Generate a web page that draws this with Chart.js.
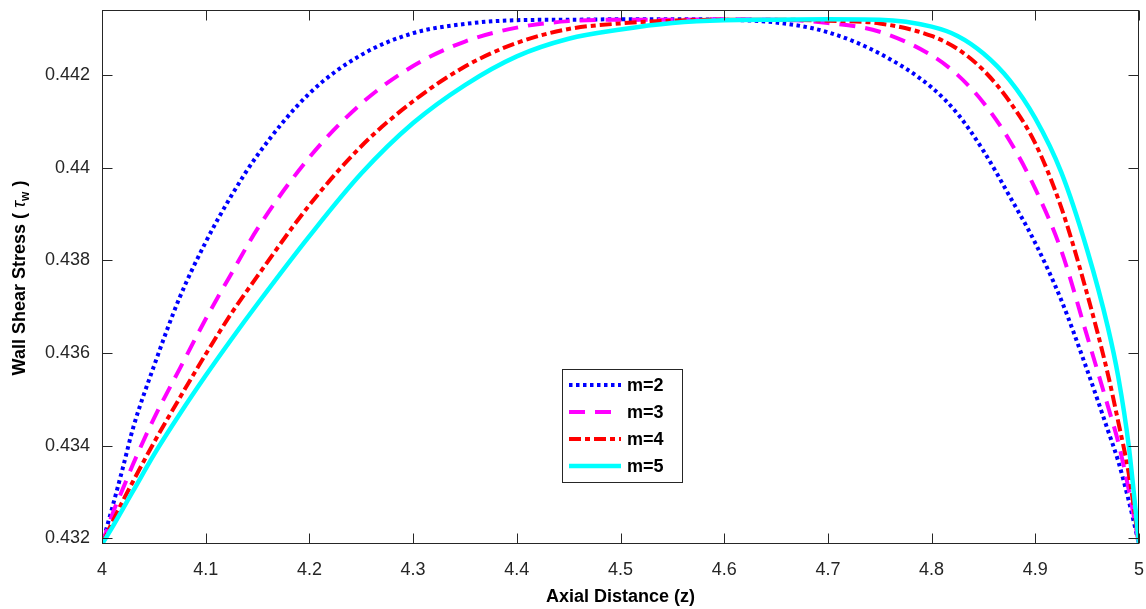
<!DOCTYPE html>
<html>
<head>
<meta charset="utf-8">
<script src="https://cdn.jsdelivr.net/npm/chart.js@4.4.1/dist/chart.umd.min.js"></script>
<style>
  html, body { margin: 0; padding: 0; background: #fff; }
  #wrap { width: 1146px; height: 609px; }
</style>
</head>
<body>
<div id="wrap"><canvas id="chart"></canvas></div>
<script>
// axial distance samples (z)
const axialZ = [4, 4.01, 4.02, 4.03, 4.05, 4.075, 4.1, 4.125, 4.15, 4.2, 4.25, 4.3, 4.35, 4.4, 4.45, 4.5,
  4.55, 4.6, 4.65, 4.7, 4.75, 4.8, 4.825, 4.85, 4.875, 4.9, 4.925, 4.95, 4.97, 4.98, 4.99, 5];

// wall shear stress for each m
const tauM2 = [0.43187, 0.43267, 0.43351, 0.43438, 0.43571, 0.43720, 0.43839, 0.43940, 0.44027, 0.44160, 0.44243,
  0.44290, 0.44310, 0.44318, 0.44319, 0.44320, 0.44320, 0.44319, 0.44313, 0.44292, 0.44246, 0.44173, 0.44116,
  0.44036, 0.43939, 0.43837, 0.43714, 0.43563, 0.43433, 0.43366, 0.43282, 0.43187];
const tauM3 = [0.43187, 0.43252, 0.43306, 0.43360, 0.43458, 0.43566, 0.43673, 0.43772, 0.43868, 0.44022, 0.44138,
  0.44219, 0.44272, 0.44302, 0.44316, 0.44319, 0.44319, 0.44320, 0.44319, 0.44312, 0.44293, 0.44242, 0.44200,
  0.44140, 0.44059, 0.43954, 0.43821, 0.43636, 0.43485, 0.43407, 0.43306, 0.43187];
const tauM4 = [0.43187, 0.43235, 0.43280, 0.43323, 0.43406, 0.43503, 0.43597, 0.43686, 0.43766, 0.43919, 0.44046,
  0.44143, 0.44218, 0.44269, 0.44299, 0.44311, 0.44317, 0.44319, 0.44319, 0.44317, 0.44311, 0.44284, 0.44256,
  0.44210, 0.44143, 0.44052, 0.43914, 0.43727, 0.43554, 0.43451, 0.43341, 0.43187];
const tauM5 = [0.43187, 0.43224, 0.43263, 0.43302, 0.43380, 0.43468, 0.43551, 0.43630, 0.43706, 0.43852, 0.43987,
  0.44096, 0.44178, 0.44240, 0.44278, 0.44298, 0.44312, 0.44318, 0.44319, 0.44320, 0.44319, 0.44304, 0.44284,
  0.44246, 0.44189, 0.44106, 0.43990, 0.43822, 0.43655, 0.43548, 0.43401, 0.43187];

const seriesLabels = ['m=2', 'm=3', 'm=4', 'm=5'];
const xTicks = [4, 4.1, 4.2, 4.3, 4.4, 4.5, 4.6, 4.7, 4.8, 4.9, 5];
const yTicks = [0.432, 0.434, 0.436, 0.438, 0.44, 0.442];
const yMin = 0.431875;
const yMax = 0.4434;

const styles = [
  { color: '#0000ff', dash: [3.5, 3.5], width: 4 },
  { color: '#ff00ff', dash: [16, 10], width: 4 },
  { color: '#ff0000', dash: [12, 4, 5, 4], width: 4 },
  { color: '#00ffff', dash: [], width: 4.5 }
];
const allTau = [tauM2, tauM3, tauM4, tauM5];

const axisColor = '#262626';
const fontFamily = '"Liberation Sans", Arial, Helvetica, sans-serif';

const datasets = allTau.map((vals, i) => ({
  label: seriesLabels[i],
  data: vals.map((v, k) => ({ x: axialZ[k], y: v })),
  borderColor: styles[i].color,
  borderDash: styles[i].dash,
  borderWidth: styles[i].width,
  borderCapStyle: 'butt',
  pointRadius: 0,
  fill: false,
  cubicInterpolationMode: 'monotone',
  order: 3 - i
}));

// box, inward ticks, legend and y title, drawn the matlab way
const matlabFrame = {
  id: 'matlabFrame',
  afterDraw(chart) {
    const { ctx, chartArea: a, scales: { x, y } } = chart;
    ctx.save();
    ctx.strokeStyle = axisColor;
    ctx.lineWidth = 1;
    ctx.setLineDash([]);
    const L = Math.round(a.left) + 0.5, R = Math.round(a.right) - 0.5;
    const T = Math.round(a.top) + 0.5, B = Math.round(a.bottom) - 0.5;
    ctx.strokeRect(L, T, R - L, B - T);
    ctx.beginPath();
    xTicks.forEach(v => {
      const px = Math.round(x.getPixelForValue(v)) + 0.5;
      ctx.moveTo(px, B); ctx.lineTo(px, B - 10);
      ctx.moveTo(px, T); ctx.lineTo(px, T + 10);
    });
    yTicks.forEach(v => {
      const py = Math.round(y.getPixelForValue(v)) + 0.5;
      ctx.moveTo(L, py); ctx.lineTo(L + 10, py);
      ctx.moveTo(R, py); ctx.lineTo(R - 10, py);
    });
    ctx.stroke();

    // legend
    const lx = 562.5, ly = 369.5, lw = 120, lh = 113;
    ctx.fillStyle = '#fff';
    ctx.fillRect(lx, ly, lw, lh);
    ctx.strokeRect(lx, ly, lw, lh);
    const rows = [385, 412, 439, 466];
    chart.data.datasets.forEach((ds, i) => {
      ctx.beginPath();
      ctx.strokeStyle = ds.borderColor;
      ctx.lineWidth = ds.borderWidth;
      ctx.setLineDash(ds.borderDash);
      ctx.moveTo(569, rows[i]);
      ctx.lineTo(621, rows[i]);
      ctx.stroke();
      ctx.setLineDash([]);
      ctx.fillStyle = '#000';
      ctx.font = 'bold 18px ' + fontFamily;
      ctx.textBaseline = 'middle';
      ctx.textAlign = 'left';
      ctx.fillText(ds.label, 627, rows[i] + 1);
    });

    // y axis title with subscript
    ctx.translate(25, 278);
    ctx.rotate(-Math.PI / 2);
    ctx.fillStyle = '#000';
    ctx.textBaseline = 'alphabetic';
    const parts = [
      { t: 'Wall Shear Stress ( ', f: 'bold 18px ' + fontFamily, dy: 0 },
      { t: 'τ', f: 'italic 19px ' + fontFamily, dy: 0 },
      { t: 'w', f: 'bold 12px ' + fontFamily, dy: 4 },
      { t: ' )', f: 'bold 18px ' + fontFamily, dy: 0 }
    ];
    let total = 0;
    parts.forEach(p => { ctx.font = p.f; total += ctx.measureText(p.t).width; });
    let cx = -total / 2;
    parts.forEach(p => {
      ctx.font = p.f;
      ctx.fillText(p.t, cx, p.dy);
      cx += ctx.measureText(p.t).width;
    });
    ctx.restore();
  }
};

new Chart(document.getElementById('chart'), {
  type: 'line',
  data: { datasets },
  options: {
    responsive: true,
    maintainAspectRatio: false,
    animation: false,
    layout: { padding: { top: 10, right: 7, left: 0, bottom: 0 } },
    plugins: { legend: { display: false }, tooltip: { enabled: false } },
    scales: {
      x: {
        type: 'linear',
        min: 4,
        max: 5,
        afterBuildTicks: s => { s.ticks = xTicks.map(v => ({ value: v })); },
        afterFit: s => { s.height = 65; s.paddingLeft = 0; s.paddingRight = 0; },
        grid: { display: false, drawTicks: false },
        border: { display: false },
        ticks: {
          color: axisColor,
          padding: 15,
          maxRotation: 0,
          font: { family: fontFamily, size: 18 },
          callback: v => String(+v.toFixed(1))
        },
        title: {
          display: true,
          text: 'Axial Distance (z)',
          color: '#000',
          font: { family: fontFamily, size: 18, weight: 'bold' },
          padding: { top: 1, bottom: 1 }
        }
      },
      y: {
        type: 'linear',
        min: yMin,
        max: yMax,
        afterBuildTicks: s => { s.ticks = yTicks.map(v => ({ value: v })); },
        afterFit: s => { s.width = 102; s.paddingTop = 0; s.paddingBottom = 0; },
        grid: { display: false, drawTicks: false },
        border: { display: false },
        ticks: {
          color: axisColor,
          padding: 12,
          font: { family: fontFamily, size: 18 },
          callback: v => String(+v.toFixed(3))
        }
      }
    }
  },
  plugins: [matlabFrame]
});
</script>
</body>
</html>
